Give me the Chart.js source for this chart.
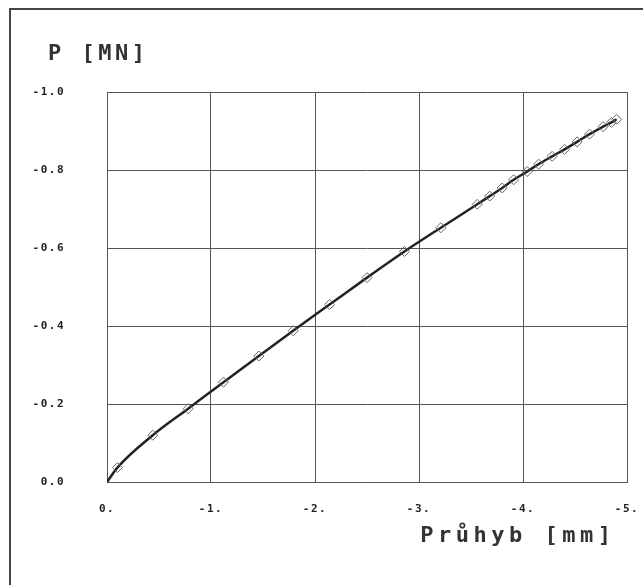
<!DOCTYPE html>
<html>
<head>
<meta charset="utf-8">
<title>P - Průhyb</title>
<script src="https://cdn.jsdelivr.net/npm/chart.js@4.4.1/dist/chart.umd.min.js"></script>
<style>
  html, body { margin: 0; padding: 0; background: #fff; overflow: hidden; }
  #wrap { position: relative; width: 643px; height: 585px; }
  #frame {
    position: absolute; left: 9px; top: 8px; width: 650px; height: 600px;
    border-top: 2px solid #444; border-left: 2px solid #444;
    pointer-events: none;
  }
</style>
</head>
<body>
<div id="wrap">
  <canvas id="loadChart" width="643" height="585"></canvas>
  <div id="frame"></div>
</div>
<script>
// ==========================================
// DATA
// ==========================================

// průhyb [mm]
const deflection = [0, -0.10, -0.44, -0.78, -1.12, -1.46, -1.79, -2.14, -2.50, -2.86, -3.21, -3.56,
  -3.68, -3.80, -3.91, -4.04, -4.15, -4.28, -4.40, -4.52, -4.64, -4.77, -4.85, -4.90];
// P [MN]
const force = [0, -0.037, -0.120, -0.188, -0.256, -0.323, -0.388, -0.455, -0.524, -0.591, -0.652, -0.712,
  -0.733, -0.754, -0.775, -0.796, -0.815, -0.835, -0.853, -0.872, -0.892, -0.911, -0.922, -0.930];

const xTickLabels = ['0.', '-1.', '-2.', '-3.', '-4.', '-5.'];
const yTickLabels = ['0.0', '-0.2', '-0.4', '-0.6', '-0.8', '-1.0'];

const xTitle = 'Průhyb [mm]';
const yTitle = 'P [MN]';

const inkColor = '#222';
const gridColor = '#555';

// titres des axes + espacement des lettres (police type traceur)
const axisTitles = {
  id: 'axisTitles',
  beforeDraw(chart) {
    chart.ctx.letterSpacing = '1.5px';
  },
  afterDraw(chart) {
    const { ctx, chartArea } = chart;
    ctx.save();
    ctx.font = 'bold 22px "DejaVu Sans Mono"';
    ctx.fillStyle = '#333';
    ctx.textBaseline = 'middle';
    ctx.letterSpacing = '3.5px';
    ctx.textAlign = 'left';
    ctx.fillText(yTitle, chartArea.left - 59, chartArea.top - 38);
    ctx.letterSpacing = '4.5px';
    ctx.textAlign = 'right';
    ctx.fillText(xTitle, chartArea.right - 11.5, chartArea.bottom + 54);
    ctx.restore();
    ctx.letterSpacing = '0px';
  }
};

const points = deflection.map((x, i) => ({ x: x, y: force[i] }));

new Chart(document.getElementById('loadChart'), {
  type: 'scatter',
  data: {
    datasets: [{
      data: points,
      showLine: true,
      borderColor: '#222',
      borderWidth: 2.5,
      cubicInterpolationMode: 'monotone',
      pointStyle: 'rectRot',
      pointRadius: ctx => ctx.dataIndex === 0 ? 0 : 5,
      pointBorderColor: '#666',
      pointBorderWidth: 1,
      pointBackgroundColor: 'rgba(255,255,255,0)'
    }]
  },
  plugins: [axisTitles],
  options: {
    responsive: false,
    animation: false,
    events: [],
    layout: { padding: { top: 92, right: 16, bottom: 0, left: 0 } },
    plugins: {
      legend: { display: false },
      tooltip: { enabled: false }
    },
    scales: {
      x: {
        type: 'linear',
        min: -5,
        max: 0,
        reverse: true,
        afterFit: scale => {
          scale.height = 103;
          scale.paddingLeft = 0;
          scale.paddingRight = 0;
        },
        ticks: {
          stepSize: 1,
          padding: 21,
          maxRotation: 0,
          color: inkColor,
          font: { family: 'DejaVu Sans Mono', size: 11, weight: 'bold' },
          callback: value => xTickLabels[Math.round(-value)]
        },
        grid: { color: gridColor, lineWidth: 1, drawTicks: false },
        border: { color: gridColor, width: 1 }
      },
      y: {
        type: 'linear',
        min: -1,
        max: 0,
        reverse: true,
        afterFit: scale => { scale.width = 107; },
        ticks: {
          stepSize: 0.2,
          padding: 42,
          color: inkColor,
          font: { family: 'DejaVu Sans Mono', size: 11, weight: 'bold' },
          callback: value => yTickLabels[Math.round(-value * 5)]
        },
        grid: { color: gridColor, lineWidth: 1, drawTicks: false },
        border: { color: gridColor, width: 1 }
      }
    }
  }
});
</script>
</body>
</html>
